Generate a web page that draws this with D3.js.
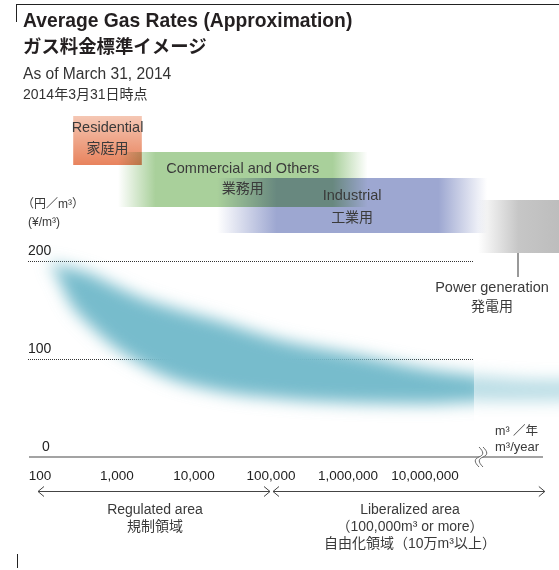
<!DOCTYPE html>
<html><head><meta charset="utf-8">
<script src="https://cdn.jsdelivr.net/npm/d3@7"></script>
<style>
html,body{margin:0;padding:0;background:#fff;}
svg{display:block;font-family:"Liberation Sans",Arial,"Noto Sans CJK JP",sans-serif;}
</style></head><body>
<svg id="chart" width="559" height="570"></svg>
<script>
// ---------------- data ----------------
const titleLines = ["Average Gas Rates (Approximation)", "ガス料金標準イメージ"];
const subtitleLines = ["As of March 31, 2014", "2014年3月31日時点"];
const yUnitLines = ["（円／m³）", "(¥/m³)"];
const xUnitLines = ["m³ ／年", "m³/year"];

const xTickValues = [100, 1000, 10000, 100000, 1000000, 10000000];
const xTickLabels = ["100", "1,000", "10,000", "100,000", "1,000,000", "10,000,000"];
const yTickValues = [0, 100, 200];
const yTickLabels = ["0", "100", "200"];

const categoryNames = ["Residential", "Commercial and Others", "Industrial", "Power generation"];
const categoryNamesJa = ["家庭用", "業務用", "工業用", "発電用"];
const categoryFrom = [270, 1030, 20000, 4.9e7];
const categoryTo = [2100, 1.8e6, 6.4e7, 6e8];

// approximate rate band (yen/m3) by annual volume (m3/year)
const rateVolume = [130, 150, 250, 430, 740, 2200, 6200, 18000, 150000, 1.3e6, 1.1e7, 4.5e7, 6e7];
const rateUpper  = [199, 197, 192, 187, 178, 161, 150, 140, 118, 104, 89, 83, 82];
const rateLower  = [198, 191, 156, 135, 118, 93, 77, 68, 59, 55, 54, 56, 56];
// power generation band (beyond the axis break)
const powerVolume = [3e7, 1e8, 3e8, 1e9];
const powerUpper  = [84, 81, 79, 79];
const powerLower  = [58, 57, 57, 58];

const areaNames = [["Regulated area", "規制領域"], ["Liberalized area", "（100,000m³ or more）", "自由化領域（10万m³以上）"]];
const areaFrom = [100, 100000];
const areaTo = [100000, 3.6e8];

// ---------------- layout / style ----------------
const W = 559, H = 570;
const svg = d3.select("#chart");
const defs = svg.append("defs");
const x = d3.scaleLog().domain([100, 1e7]).range([40, 425]);
const y = d3.scaleLinear().domain([0, 200]).range([457, 260.5]);
const textCol = "#3a3a3a";

// frame marks
svg.append("line").attr("x1", 16).attr("x2", W).attr("y1", 4.5).attr("y2", 4.5).attr("stroke", "#222").attr("stroke-width", 1);
svg.append("line").attr("x1", 16.5).attr("x2", 16.5).attr("y1", 4).attr("y2", 22).attr("stroke", "#222").attr("stroke-width", 1);
svg.append("line").attr("x1", 17.5).attr("x2", 17.5).attr("y1", 554).attr("y2", 568).attr("stroke", "#222").attr("stroke-width", 1);

// titles
svg.append("text").attr("x", 23).attr("y", 27).attr("font-size", 19.3).attr("font-weight", "bold").attr("fill", "#231f20").text(titleLines[0]);
svg.append("text").attr("x", 23).attr("y", 53).attr("font-size", 18.4).attr("font-weight", "bold").attr("fill", "#231f20").text(titleLines[1]);
svg.append("text").attr("x", 23).attr("y", 79).attr("font-size", 15.6).attr("fill", "#333").text(subtitleLines[0]);
svg.append("text").attr("x", 23).attr("y", 99).attr("font-size", 14).attr("fill", "#333").text(subtitleLines[1]);

// category bands
const bandTop = [116, 152, 178, 200];
const bandH = [49, 55, 55, 53];
const gradDefs = [
  {id: "gRes", x2: "0%", y2: "100%", stops: [[0, "#f5c7b4"], [1, "#e8835d"]]},
  {id: "gCom", x2: "100%", y2: "0%", stops: [[0, "#ffffff"], [0.15, "#a9d09b"], [0.86, "#a9d09b"], [1, "#ffffff"]]},
  {id: "gInd", x2: "100%", y2: "0%", stops: [[0, "#ffffff"], [0.22, "#9da7d1"], [0.82, "#9da7d1"], [1, "#ffffff"]]},
  {id: "gPow", x2: "100%", y2: "0%", stops: [[0, "#ffffff"], [0.5, "#c6c6c6"], [1, "#bdbdbd"]]}
];
gradDefs.forEach(g => {
  const lg = defs.append("linearGradient").attr("id", g.id).attr("x1", "0%").attr("y1", "0%").attr("x2", g.x2).attr("y2", g.y2);
  g.stops.forEach(s => lg.append("stop").attr("offset", s[0]).attr("stop-color", s[1]));
});
const bandG = svg.append("g");
categoryNames.forEach((c, i) => {
  bandG.append("rect")
    .attr("x", x(categoryFrom[i])).attr("y", bandTop[i])
    .attr("width", Math.min(W, x(categoryTo[i])) - x(categoryFrom[i])).attr("height", bandH[i])
    .attr("fill", "url(#" + gradDefs[i].id + ")")
    .style("mix-blend-mode", "multiply");
});
// category labels
const labX = [null, null, null, 492];
const labY = [[132, 153], [173, 193], [200, 222], [292, 311]];
categoryNames.forEach((c, i) => {
  const cx = labX[i] != null ? labX[i] : (x(categoryFrom[i]) + Math.min(W, x(categoryTo[i]))) / 2;
  svg.append("text").attr("x", cx).attr("y", labY[i][0]).attr("text-anchor", "middle").attr("font-size", 14.5).attr("fill", textCol).text(c);
  svg.append("text").attr("x", cx).attr("y", labY[i][1]).attr("text-anchor", "middle").attr("font-size", 14).attr("fill", textCol).text(categoryNamesJa[i]);
});
// power generation leader
svg.append("line").attr("x1", 518).attr("x2", 518).attr("y1", 253).attr("y2", 277).attr("stroke", "#777").attr("stroke-width", 1.5);

// y unit labels
svg.append("text").attr("x", 22).attr("y", 208).attr("font-size", 12).attr("fill", textCol).text(yUnitLines[0]);
svg.append("text").attr("x", 28).attr("y", 226).attr("font-size", 12).attr("fill", textCol).text(yUnitLines[1]);

// gridlines
yTickValues.filter(v => v > 0).forEach(v => {
  svg.append("line").attr("x1", 28).attr("x2", 474).attr("y1", Math.round(y(v)) + 0.5).attr("y2", Math.round(y(v)) + 0.5)
    .attr("stroke", "#333").attr("stroke-width", 1).attr("stroke-dasharray", "1,1");
});
yTickValues.forEach((v, i) => {
  svg.append("text").attr("x", v === 0 ? 42 : 28).attr("y", y(v) - 6).attr("font-size", 14).attr("fill", "#222").text(yTickLabels[i]);
});

// rate band (blurred)
const blur = defs.append("filter").attr("id", "blur").attr("x", "-30%").attr("y", "-60%").attr("width", "160%").attr("height", "220%");
blur.append("feGaussianBlur").attr("stdDeviation", 8);
defs.append("clipPath").attr("id", "clipMain").append("rect").attr("x", 0).attr("y", 0).attr("width", 474).attr("height", H);
defs.append("clipPath").attr("id", "clipPow").append("rect").attr("x", 474).attr("y", 0).attr("width", W - 474).attr("height", H);

const rateData = rateVolume.map((v, i) => ({v, hi: rateUpper[i], lo: rateLower[i]}));
const powData = powerVolume.map((v, i) => ({v, hi: powerUpper[i], lo: powerLower[i]}));
const area = d3.area().x(d => x(d.v)).y0(d => y(d.lo)).y1(d => y(d.hi)).curve(d3.curveMonotoneX);
svg.append("g").attr("clip-path", "url(#clipMain)")
  .append("path").attr("d", area(rateData)).attr("fill", "#77bccc").attr("filter", "url(#blur)");
svg.append("g").attr("clip-path", "url(#clipPow)")
  .append("path").attr("d", area(powData)).attr("fill", "#77bccc").attr("opacity", 0.5).attr("filter", "url(#blur)");

// x axis
svg.append("line").attr("x1", 29).attr("x2", 543).attr("y1", 457).attr("y2", 457).attr("stroke", "#858585").attr("stroke-width", 1.6);
// axis break
const bx = 479;
svg.append("path").attr("d", `M${bx},447 C${bx + 5},452 ${bx + 5},455 ${bx},457 C${bx - 5},459 ${bx - 5},462 ${bx},467 L${bx + 4},467 C${bx - 1},462 ${bx - 1},459 ${bx + 4},457 C${bx + 9},455 ${bx + 9},452 ${bx + 4},447 Z`)
  .attr("fill", "#fff").attr("stroke", "none");
[0, 4].forEach(o => {
  const xx = bx + o;
  svg.append("path").attr("d", `M${xx},447 C${xx + 5},452 ${xx + 5},455 ${xx},457 C${xx - 5},459 ${xx - 5},462 ${xx},467`)
    .attr("fill", "none").attr("stroke", "#666").attr("stroke-width", 1);
});
svg.append("text").attr("x", 495).attr("y", 435).attr("font-size", 12.5).attr("fill", textCol).text(xUnitLines[0]);
svg.append("text").attr("x", 495).attr("y", 451).attr("font-size", 13).attr("fill", textCol).text(xUnitLines[1]);

xTickValues.forEach((v, i) => {
  svg.append("text").attr("x", x(v)).attr("y", 480).attr("text-anchor", "middle").attr("font-size", 13.5).attr("fill", "#222").text(xTickLabels[i]);
});

// area arrows
const ay = 491.5;
areaFrom.forEach((f, i) => {
  const x1 = x(f) - 2 + (i === 0 ? 0 : 4), x2 = Math.min(545, x(areaTo[i]) - (i === 0 ? 1 : 0));
  const g = svg.append("g").attr("stroke", "#444").attr("stroke-width", 1).attr("fill", "none");
  g.append("line").attr("x1", x1).attr("x2", x2).attr("y1", ay).attr("y2", ay);
  g.append("path").attr("d", `M${x1 + 6},${ay - 5} L${x1},${ay} L${x1 + 6},${ay + 5}`);
  g.append("path").attr("d", `M${x2 - 6},${ay - 5} L${x2},${ay} L${x2 - 6},${ay + 5}`);
  const cx = i === 0 ? 155 : 410;
  areaNames[i].forEach((t, j) => {
    svg.append("text").attr("x", cx).attr("y", 514 + j * 17).attr("text-anchor", "middle").attr("font-size", 14).attr("fill", textCol).text(t);
  });
});
</script>
</body></html>
